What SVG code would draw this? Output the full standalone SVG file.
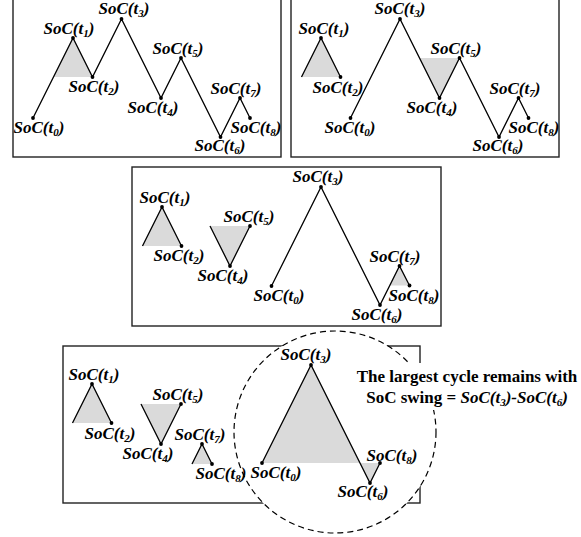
<svg xmlns="http://www.w3.org/2000/svg" width="581" height="537" viewBox="0 0 581 537">
<style>
.box{fill:none;stroke:#222;stroke-width:1.4}
.ln{fill:none;stroke:#000;stroke-width:1.3;stroke-linejoin:miter}
.sh{fill:#dadada;stroke:none}
.lb{font-family:"Liberation Serif","Times New Roman",serif;font-weight:bold;font-style:italic;font-size:17px;fill:#000;text-anchor:middle}
.sub{font-size:11px}
.cap{font-family:"Liberation Serif","Times New Roman",serif;font-weight:bold;font-size:17px;fill:#000;text-anchor:middle}
.it{font-style:italic}
</style>
<defs>
<circle id="d" r="1.9" fill="#000"/>
</defs>
<rect width="581" height="537" fill="#fff"/>

<!-- Panel 1 -->
<g id="panel1">
<rect class="box" x="13" y="-2" width="268" height="159"/>
<polygon class="sh" points="53.5,77 73,38 92.5,77"/>
<g id="p1-connectors"><polyline class="ln" points="33,118 73,38 92.5,77 121.5,19 161,98 181,58 220.5,137 240,98 250,118"/></g>
<g id="p1-t0"><use href="#d" x="33" y="118"/><text class="lb" x="39" y="133">SoC(t<tspan class="sub" dy="3">0</tspan><tspan dy="-3">)</tspan></text></g>
<g id="p1-t1"><use href="#d" x="73" y="38"/><text class="lb" x="69" y="34">SoC(t<tspan class="sub" dy="3">1</tspan><tspan dy="-3">)</tspan></text></g>
<g id="p1-t2"><use href="#d" x="92.5" y="77"/><text class="lb" x="94" y="92">SoC(t<tspan class="sub" dy="3">2</tspan><tspan dy="-3">)</tspan></text></g>
<g id="p1-t3"><use href="#d" x="121.5" y="19"/><text class="lb" x="124" y="14">SoC(t<tspan class="sub" dy="3">3</tspan><tspan dy="-3">)</tspan></text></g>
<g id="p1-t4"><use href="#d" x="161" y="98"/><text class="lb" x="153" y="113">SoC(t<tspan class="sub" dy="3">4</tspan><tspan dy="-3">)</tspan></text></g>
<g id="p1-t5"><use href="#d" x="181" y="58"/><text class="lb" x="178" y="54">SoC(t<tspan class="sub" dy="3">5</tspan><tspan dy="-3">)</tspan></text></g>
<g id="p1-t6"><use href="#d" x="220.5" y="137"/><text class="lb" x="220" y="151">SoC(t<tspan class="sub" dy="3">6</tspan><tspan dy="-3">)</tspan></text></g>
<g id="p1-t7"><use href="#d" x="240" y="98"/><text class="lb" x="236" y="94">SoC(t<tspan class="sub" dy="3">7</tspan><tspan dy="-3">)</tspan></text></g>
<g id="p1-t8"><use href="#d" x="250" y="118"/><text class="lb" x="256" y="133">SoC(t<tspan class="sub" dy="3">8</tspan><tspan dy="-3">)</tspan></text></g>
</g>

<!-- Panel 2 -->
<g id="panel2">
<rect class="box" x="291" y="-2" width="268" height="159"/>
<polygon class="sh" points="301.5,77 321,38 340.5,77"/>
<polygon class="sh" points="419.5,58 439.5,98 459.5,58"/>
<g id="p2-connectors">
<polyline class="ln" points="301.5,77 321,38 340.5,77"/>
<polyline class="ln" points="350.5,118 400,19 439.5,98 459.5,58 499,137 518.5,98 528.5,118"/>
</g>
<g id="p2-t1"><use href="#d" x="321" y="38"/><text class="lb" x="324" y="34">SoC(t<tspan class="sub" dy="3">1</tspan><tspan dy="-3">)</tspan></text></g>
<g id="p2-t2"><use href="#d" x="340.5" y="77"/><text class="lb" x="338" y="93">SoC(t<tspan class="sub" dy="3">2</tspan><tspan dy="-3">)</tspan></text></g>
<g id="p2-t0"><use href="#d" x="350.5" y="118"/><text class="lb" x="350" y="133">SoC(t<tspan class="sub" dy="3">0</tspan><tspan dy="-3">)</tspan></text></g>
<g id="p2-t3"><use href="#d" x="400" y="19"/><text class="lb" x="400" y="14">SoC(t<tspan class="sub" dy="3">3</tspan><tspan dy="-3">)</tspan></text></g>
<g id="p2-t4"><use href="#d" x="439.5" y="98"/><text class="lb" x="432" y="113">SoC(t<tspan class="sub" dy="3">4</tspan><tspan dy="-3">)</tspan></text></g>
<g id="p2-t5"><use href="#d" x="459.5" y="58"/><text class="lb" x="456" y="54">SoC(t<tspan class="sub" dy="3">5</tspan><tspan dy="-3">)</tspan></text></g>
<g id="p2-t6"><use href="#d" x="499" y="137"/><text class="lb" x="498" y="151">SoC(t<tspan class="sub" dy="3">6</tspan><tspan dy="-3">)</tspan></text></g>
<g id="p2-t7"><use href="#d" x="518.5" y="98"/><text class="lb" x="515" y="94">SoC(t<tspan class="sub" dy="3">7</tspan><tspan dy="-3">)</tspan></text></g>
<g id="p2-t8"><use href="#d" x="528.5" y="118"/><text class="lb" x="534" y="133">SoC(t<tspan class="sub" dy="3">8</tspan><tspan dy="-3">)</tspan></text></g>
</g>

<!-- Panel 3 -->
<g id="panel3">
<rect class="box" x="132" y="167" width="309" height="159"/>
<polygon class="sh" points="142.5,246 162,207 181.5,246"/>
<polygon class="sh" points="210,226 230,266 250,226"/>
<polygon class="sh" points="389.75,285.5 399.5,266 409.5,285.5"/>
<g id="p3-connectors">
<polyline class="ln" points="142.5,246 162,207 181.5,246"/>
<polyline class="ln" points="210,226 230,266 250,226"/>
<polyline class="ln" points="271.5,286 321,187 380,305 399.5,266 409.5,285.5"/>
</g>
<g id="p3-t1"><use href="#d" x="162" y="207"/><text class="lb" x="165" y="203">SoC(t<tspan class="sub" dy="3">1</tspan><tspan dy="-3">)</tspan></text></g>
<g id="p3-t2"><use href="#d" x="181.5" y="246"/><text class="lb" x="179" y="261">SoC(t<tspan class="sub" dy="3">2</tspan><tspan dy="-3">)</tspan></text></g>
<g id="p3-t5"><use href="#d" x="250" y="226"/><text class="lb" x="249" y="222">SoC(t<tspan class="sub" dy="3">5</tspan><tspan dy="-3">)</tspan></text></g>
<g id="p3-t4"><use href="#d" x="230" y="266"/><text class="lb" x="223" y="281">SoC(t<tspan class="sub" dy="3">4</tspan><tspan dy="-3">)</tspan></text></g>
<g id="p3-t3"><use href="#d" x="321" y="187"/><text class="lb" x="318" y="182">SoC(t<tspan class="sub" dy="3">3</tspan><tspan dy="-3">)</tspan></text></g>
<g id="p3-t0"><use href="#d" x="271.5" y="286"/><text class="lb" x="279" y="301">SoC(t<tspan class="sub" dy="3">0</tspan><tspan dy="-3">)</tspan></text></g>
<g id="p3-t7"><use href="#d" x="399.5" y="266"/><text class="lb" x="395" y="262">SoC(t<tspan class="sub" dy="3">7</tspan><tspan dy="-3">)</tspan></text></g>
<g id="p3-t8"><use href="#d" x="409.5" y="285.5"/><text class="lb" x="414" y="301">SoC(t<tspan class="sub" dy="3">8</tspan><tspan dy="-3">)</tspan></text></g>
<g id="p3-t6"><use href="#d" x="380" y="305"/><text class="lb" x="377" y="320">SoC(t<tspan class="sub" dy="3">6</tspan><tspan dy="-3">)</tspan></text></g>
</g>

<!-- Panel 4 -->
<g id="panel4">
<rect class="box" x="63" y="346" width="357" height="157"/>
<circle cx="335" cy="432" r="101" fill="#fff" stroke="#000" stroke-width="1.2" stroke-dasharray="6,4"/>
<rect x="345" y="363" width="236" height="47" fill="#fff"/>
<polygon class="sh" points="72.5,423 92,384 111.5,423"/>
<polygon class="sh" points="141,404 161,444 181,404"/>
<polygon class="sh" points="192,464 202,444 212,464"/>
<polygon class="sh" points="262,463 311,365 370,483 380,463"/>
<g id="p4-connectors">
<polyline class="ln" points="72.5,423 92,384 111.5,423"/>
<polyline class="ln" points="141,404 161,444 181,404"/>
<polyline class="ln" points="192,464 202,444 212,464"/>
<polyline class="ln" points="262,463 311,365 370,483 380,463"/>
</g>
<g id="p4-t1"><use href="#d" x="92" y="384"/><text class="lb" x="94" y="380">SoC(t<tspan class="sub" dy="3">1</tspan><tspan dy="-3">)</tspan></text></g>
<g id="p4-t2"><use href="#d" x="111.5" y="423"/><text class="lb" x="110" y="439">SoC(t<tspan class="sub" dy="3">2</tspan><tspan dy="-3">)</tspan></text></g>
<g id="p4-t5"><use href="#d" x="181" y="404"/><text class="lb" x="178" y="400">SoC(t<tspan class="sub" dy="3">5</tspan><tspan dy="-3">)</tspan></text></g>
<g id="p4-t4"><use href="#d" x="161" y="444"/><text class="lb" x="148" y="459">SoC(t<tspan class="sub" dy="3">4</tspan><tspan dy="-3">)</tspan></text></g>
<g id="p4-t7"><use href="#d" x="202" y="444"/><text class="lb" x="200" y="440">SoC(t<tspan class="sub" dy="3">7</tspan><tspan dy="-3">)</tspan></text></g>
<g id="p4-t8a"><use href="#d" x="212" y="464"/><text class="lb" x="221" y="479">SoC(t<tspan class="sub" dy="3">8</tspan><tspan dy="-3">)</tspan></text></g>
<g id="p4-t3"><use href="#d" x="311" y="365"/><text class="lb" x="306" y="360">SoC(t<tspan class="sub" dy="3">3</tspan><tspan dy="-3">)</tspan></text></g>
<g id="p4-t0"><use href="#d" x="262" y="463"/><text class="lb" x="276" y="478">SoC(t<tspan class="sub" dy="3">0</tspan><tspan dy="-3">)</tspan></text></g>
<g id="p4-t8b"><use href="#d" x="380" y="463"/><text class="lb" x="392" y="461">SoC(t<tspan class="sub" dy="3">8</tspan><tspan dy="-3">)</tspan></text></g>
<g id="p4-t6"><use href="#d" x="370" y="483"/><text class="lb" x="363" y="497">SoC(t<tspan class="sub" dy="3">6</tspan><tspan dy="-3">)</tspan></text></g>
<g id="caption">
<text class="cap" x="467" y="382">The largest cycle remains with</text>
<text class="cap" x="467" y="403">SoC swing = <tspan class="it">SoC(t</tspan><tspan class="it sub" dy="3">3</tspan><tspan class="it" dy="-3">)-SoC(t</tspan><tspan class="it sub" dy="3">6</tspan><tspan class="it" dy="-3">)</tspan></text>
</g>
</g>
</svg>
